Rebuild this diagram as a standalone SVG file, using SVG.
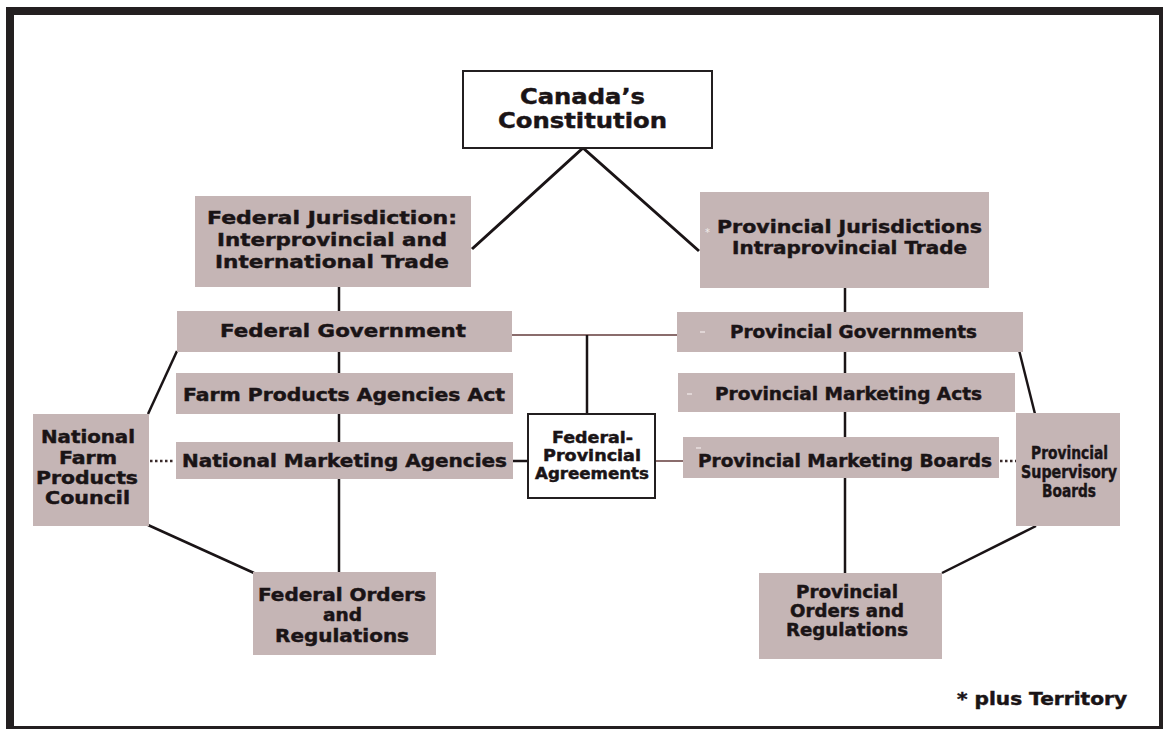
<svg xmlns="http://www.w3.org/2000/svg" width="1163" height="729" viewBox="0 0 1163 729">
<style>
.box{fill:#c5b5b5}
.wbox{fill:#ffffff;stroke:#231f20;stroke-width:2}
.t{font-family:"DejaVu Sans","Liberation Sans",sans-serif;font-weight:bold;fill:#1a1416;stroke:#1a1416;stroke-width:0.45}
.ln{stroke:#1a1416;stroke-width:2.5;fill:none}
.br{stroke:#8a6c6c;stroke-width:2;fill:none}
.dot{stroke:#3a2a2a;stroke-width:2.5;stroke-dasharray:2.5 2.5;fill:none}
.mk{fill:#f2ecec;font-family:"DejaVu Sans",sans-serif;font-size:10px}
</style>
<rect x="0" y="0" width="1163" height="729" fill="#ffffff"/>
<rect x="6" y="7" width="1157" height="722" fill="#231f20"/>
<rect x="14" y="15" width="1145" height="711" fill="#ffffff"/>

<g id="connectors">
<polyline class="ln" points="472,249 583,148 699,251" style="stroke-width:3"/>
<line class="ln" x1="339" y1="287" x2="339" y2="311"/>
<line class="ln" x1="339" y1="352" x2="339" y2="373"/>
<line class="ln" x1="339" y1="414" x2="339" y2="442"/>
<line class="ln" x1="339" y1="479" x2="339" y2="573"/>
<line class="ln" x1="845" y1="288" x2="845" y2="312"/>
<line class="ln" x1="845" y1="352" x2="845" y2="373"/>
<line class="ln" x1="845" y1="412" x2="845" y2="437"/>
<line class="ln" x1="845" y1="478" x2="845" y2="573"/>
<line class="br" x1="512" y1="335" x2="678" y2="335"/>
<line class="ln" x1="587" y1="335" x2="587" y2="414"/>
<line class="ln" x1="513" y1="461" x2="528" y2="461"/>
<line class="br" x1="655" y1="461" x2="683" y2="461"/>
<line class="dot" x1="150" y1="461" x2="175" y2="461"/>
<line class="dot" x1="1000" y1="461" x2="1016" y2="461"/>
<line class="ln" x1="148" y1="414" x2="177" y2="351"/>
<line class="ln" x1="148" y1="525" x2="254" y2="573"/>
<line class="ln" x1="1019" y1="350" x2="1035" y2="414"/>
<line class="ln" x1="1036" y1="526" x2="942" y2="573"/>
</g>

<g id="constitution">
<rect class="wbox" x="463" y="71" width="249" height="77"/>
<text class="t" x="520" y="104" font-size="21" textLength="125" lengthAdjust="spacingAndGlyphs">Canada’s</text>
<text class="t" x="498" y="128" font-size="21" textLength="169" lengthAdjust="spacingAndGlyphs">Constitution</text>
</g>

<g id="federal-jurisdiction">
<rect class="box" x="195" y="196" width="276" height="91"/>
<text class="t" x="207" y="224" font-size="18" textLength="250" lengthAdjust="spacingAndGlyphs">Federal Jurisdiction:</text>
<text class="t" x="217" y="246" font-size="18" textLength="230" lengthAdjust="spacingAndGlyphs">Interprovincial and</text>
<text class="t" x="215" y="268" font-size="18" textLength="234" lengthAdjust="spacingAndGlyphs">International Trade</text>
</g>

<g id="federal-government">
<rect class="box" x="177" y="311" width="335" height="41"/>
<text class="t" x="220" y="337" font-size="18" textLength="246" lengthAdjust="spacingAndGlyphs">Federal Government</text>
</g>

<g id="farm-products-act">
<rect class="box" x="176" y="373" width="337" height="41"/>
<text class="t" x="183" y="401" font-size="17" textLength="322" lengthAdjust="spacingAndGlyphs">Farm Products Agencies Act</text>
</g>

<g id="national-marketing-agencies">
<rect class="box" x="176" y="442" width="337" height="37"/>
<text class="t" x="182" y="467" font-size="17" textLength="325" lengthAdjust="spacingAndGlyphs">National Marketing Agencies</text>
</g>

<g id="nfpc">
<rect class="box" x="33" y="414" width="116" height="112"/>
<text class="t" x="41" y="443" font-size="17" textLength="94" lengthAdjust="spacingAndGlyphs">National</text>
<text class="t" x="59" y="464" font-size="17" textLength="58" lengthAdjust="spacingAndGlyphs">Farm</text>
<text class="t" x="36" y="484" font-size="17" textLength="102" lengthAdjust="spacingAndGlyphs">Products</text>
<text class="t" x="45" y="504" font-size="17" textLength="85" lengthAdjust="spacingAndGlyphs">Council</text>
</g>

<g id="federal-orders">
<rect class="box" x="253" y="572" width="183" height="83"/>
<text class="t" x="258" y="601" font-size="17" textLength="168" lengthAdjust="spacingAndGlyphs">Federal Orders</text>
<text class="t" x="323" y="621" font-size="17" textLength="39" lengthAdjust="spacingAndGlyphs">and</text>
<text class="t" x="275" y="642" font-size="17" textLength="134" lengthAdjust="spacingAndGlyphs">Regulations</text>
</g>

<g id="federal-provincial-agreements">
<rect class="wbox" x="528" y="414" width="127" height="84"/>
<text class="t" x="552" y="443" font-size="15" textLength="81" lengthAdjust="spacingAndGlyphs">Federal-</text>
<text class="t" x="543" y="461" font-size="15" textLength="98" lengthAdjust="spacingAndGlyphs">Provincial</text>
<text class="t" x="535" y="479" font-size="15" textLength="114" lengthAdjust="spacingAndGlyphs">Agreements</text>
</g>

<g id="provincial-jurisdictions">
<rect class="box" x="700" y="192" width="289" height="96"/>
<text class="mk" x="705" y="236">*</text>
<text class="t" x="717" y="233" font-size="18" textLength="265" lengthAdjust="spacingAndGlyphs">Provincial Jurisdictions</text>
<text class="t" x="732" y="254" font-size="18" textLength="235" lengthAdjust="spacingAndGlyphs">Intraprovincial Trade</text>
</g>

<g id="provincial-governments">
<rect class="box" x="677" y="312" width="346" height="40"/>
<line x1="700" y1="332" x2="705" y2="332" stroke="#f2ecec" stroke-width="1.2"/>
<text class="t" x="730" y="338" font-size="17" textLength="247" lengthAdjust="spacingAndGlyphs">Provincial Governments</text>
</g>

<g id="provincial-marketing-acts">
<rect class="box" x="678" y="373" width="337" height="39"/>
<line x1="687" y1="394" x2="692" y2="394" stroke="#f2ecec" stroke-width="1.2"/>
<text class="t" x="715" y="400" font-size="17" textLength="267" lengthAdjust="spacingAndGlyphs">Provincial Marketing Acts</text>
</g>

<g id="provincial-marketing-boards">
<rect class="box" x="683" y="437" width="316" height="41"/>
<line x1="696" y1="448" x2="701" y2="448" stroke="#f2ecec" stroke-width="1.2"/>
<text class="t" x="698" y="467" font-size="17" textLength="294" lengthAdjust="spacingAndGlyphs">Provincial Marketing Boards</text>
</g>

<g id="provincial-supervisory-boards">
<rect class="box" x="1016" y="413" width="104" height="113"/>
<text class="t" x="1031" y="459" font-size="17" textLength="77" lengthAdjust="spacingAndGlyphs">Provincial</text>
<text class="t" x="1021" y="478" font-size="17" textLength="96" lengthAdjust="spacingAndGlyphs">Supervisory</text>
<text class="t" x="1042" y="497" font-size="17" textLength="54" lengthAdjust="spacingAndGlyphs">Boards</text>
</g>

<g id="provincial-orders">
<rect class="box" x="759" y="573" width="183" height="86"/>
<text class="t" x="796" y="598" font-size="17" textLength="102" lengthAdjust="spacingAndGlyphs">Provincial</text>
<text class="t" x="790" y="617" font-size="17" textLength="114" lengthAdjust="spacingAndGlyphs">Orders and</text>
<text class="t" x="786" y="636" font-size="17" textLength="122" lengthAdjust="spacingAndGlyphs">Regulations</text>
</g>

<g id="footnote">
<text class="t" x="957" y="705" font-size="17" textLength="170" lengthAdjust="spacingAndGlyphs">* plus Territory</text>
</g>
</svg>
